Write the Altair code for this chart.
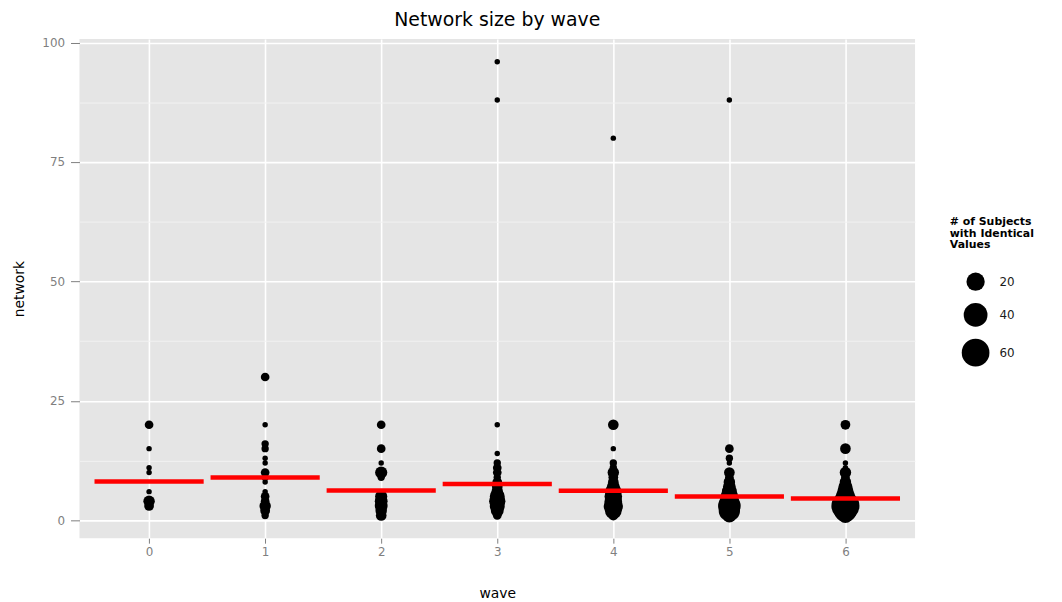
import altair as alt
import pandas as pd

# ---- data (value, # of subjects with that value) ----
wave0_values = [20, 15, 11, 10, 6, 4, 3]
wave0_counts = [3, 1, 1, 1, 1, 6, 4]

wave1_values = [30, 20, 16, 15, 13, 12, 10, 9, 8, 6, 5, 4, 3, 2, 1]
wave1_counts = [3, 1, 2, 2, 1, 1, 3, 2, 1, 1, 3, 3, 6, 4, 2]

wave2_values = [20, 15, 12, 10, 9, 5, 4, 3, 2, 1]
wave2_counts = [3, 3, 1, 7, 2, 7, 8, 8, 6, 5]

wave3_values = [96, 88, 20, 14, 12, 11, 10, 9, 8, 7, 6, 5, 4, 3, 2, 1]
wave3_counts = [1, 1, 1, 1, 2, 3, 3, 2, 4, 5, 6, 12, 15, 12, 8, 3]

wave4_values = [80, 20, 15, 12, 11, 10, 9, 8, 7, 6, 5, 4, 3, 2, 1]
wave4_counts = [1, 5, 1, 2, 2, 6, 4, 5, 8, 15, 18, 18, 23, 16, 4]

wave5_values = [88, 15, 13, 12, 10, 9, 8, 7, 6, 5, 4, 3, 2, 1]
wave5_counts = [1, 3, 2, 1, 5, 3, 6, 8, 12, 18, 25, 35, 30, 10]

wave6_values = [20, 15, 12, 11, 10, 9, 8, 7, 6, 5, 4, 3, 2, 1]
wave6_counts = [4, 5, 1, 1, 6, 3, 6, 10, 15, 22, 35, 62, 35, 12]

y_ticks = [0, 25, 50, 75, 100]
y_minor = [12.5, 37.5, 62.5, 87.5]
legend_values = [20, 40, 60]

all_values = [wave0_values, wave1_values, wave2_values, wave3_values,
              wave4_values, wave5_values, wave6_values]
all_counts = [wave0_counts, wave1_counts, wave2_counts, wave3_counts,
              wave4_counts, wave5_counts, wave6_counts]

rows = []
for w, (vals, cnts) in enumerate(zip(all_values, all_counts)):
    for v, c in zip(vals, cnts):
        rows.append({"wave": str(w), "network": v, "n": c})
df = pd.DataFrame(rows)

FONT = "DejaVu Sans"
wave_order = [str(i) for i in range(7)]
is_major = "datum.value % 25 === 0"

x_enc = alt.X("wave:O", title="wave", sort=wave_order,
              scale=alt.Scale(type="point", padding=0.6),
              axis=alt.Axis(labelAngle=0, grid=True, gridColor="white", gridWidth=1.6,
                            domain=False, tickColor="#7f7f7f", tickSize=5,
                            labelColor="#7f7f7f", labelFontSize=12, labelPadding=3,
                            titleFontSize=14, titleFontWeight="normal", titleColor="black",
                            titlePadding=30))
y_scale = alt.Scale(domain=[-3.75, 100.75], nice=False, zero=False)

y_axis = alt.Axis(
    values=sorted(y_ticks + y_minor), grid=True,
    gridColor=alt.condition(is_major, alt.value("white"), alt.value("#f2f2f2")),
    gridWidth=alt.condition(is_major, alt.value(1.6), alt.value(1)),
    tickOpacity=alt.condition(is_major, alt.value(1), alt.value(0)),
    labelExpr=f"{is_major} ? datum.label : ''",
    domain=False, tickColor="#7f7f7f", tickSize=9,
    labelColor="#7f7f7f", labelFontSize=12, labelPadding=6,
    titleFontSize=14, titleFontWeight="normal", titleColor="black", titlePadding=15)

points = alt.Chart(df).mark_circle(color="black", opacity=1).encode(
    x=x_enc,
    y=alt.Y("network:Q", title="network", scale=y_scale, axis=y_axis),
    size=alt.Size("n:Q",
                  scale=alt.Scale(type="pow", exponent=0.75, domain=[1, 60], range=[30, 780]),
                  legend=alt.Legend(title=["# of Subjects", "with Identical", "Values"],
                                    values=legend_values, orient="none",
                                    legendX=877, legendY=178,
                                    titleFontSize=11, titleFontWeight="bold",
                                    titleLineHeight=12, titleColor="black",
                                    labelFontSize=12, labelColor="#1a1a1a",
                                    symbolFillColor="black", symbolStrokeWidth=0,
                                    symbolOffset=12,
                                    rowPadding=12, labelOffset=10, titlePadding=22)),
)

means = alt.Chart(df).transform_calculate(
    wsum="datum.network * datum.n"
).transform_aggregate(
    tw="sum(wsum)", tn="sum(n)", groupby=["wave"]
).transform_calculate(
    mean="datum.tw / datum.tn"
).mark_tick(color="red", size=110, thickness=4.5, opacity=1).encode(
    x=alt.X("wave:O", sort=wave_order),
    y=alt.Y("mean:Q", scale=y_scale),
)

chart = alt.layer(points, means).properties(
    width=842, height=503,
    title=alt.TitleParams("Network size by wave", fontSize=19, fontWeight="normal",
                          anchor="middle", color="black", offset=7, font=FONT),
    autosize=alt.AutoSizeParams(type="none"),
    padding={"left": 72, "top": 29, "right": 140, "bottom": 60},
).configure(font=FONT).configure_view(
    fill="#e5e5e5", stroke=None
).configure_axis(labelFont=FONT, titleFont=FONT).configure_legend(
    labelFont=FONT, titleFont=FONT
)

chart.save("out.html", embed_options={"renderer": "svg", "actions": False})
